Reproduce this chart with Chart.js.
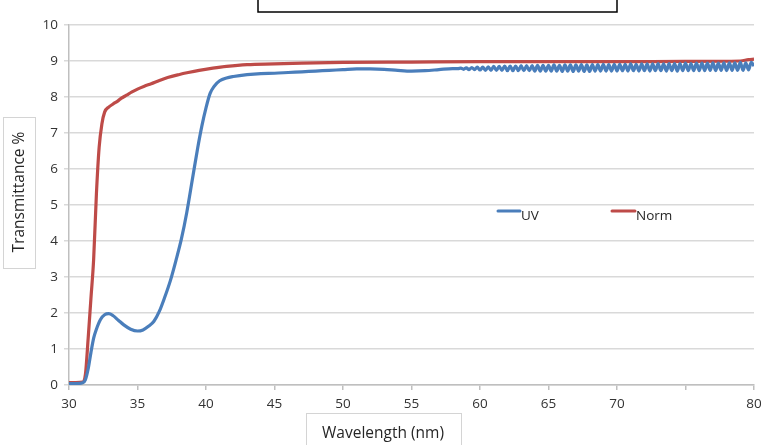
<!DOCTYPE html>
<html>
<head>
<meta charset="utf-8">
<script src="https://cdn.jsdelivr.net/npm/chart.js@4/dist/chart.umd.min.js"></script>
<style>
html,body{margin:0;padding:0;background:#fff;}
#wrap{width:775px;height:445px;position:relative;}
</style>
</head>
<body>
<div id="wrap"><canvas id="c" width="775" height="445"></canvas></div>
<script>
// ---- data ----
const xTicks = [30,35,40,45,50,55,60,65,70,75,80];
const yTicks = [0,1,2,3,4,5,6,7,8,9,10];

const normWavelength = [30,30.5,31.0,31.2,31.4,31.6,31.8,32.0,32.2,32.4,32.6,32.9,33.2,33.6,33.8,34.2,34.6,35.0,35.5,36.0,36.6,37.2,38.0,38.7,39.5,40.5,41.5,43,45,47,50,55,60,65,70,75,79.0,79.6,80];
const normValues     = [0.07,0.07,0.08,0.3,1.3,2.4,3.5,5.3,6.6,7.25,7.58,7.72,7.8,7.9,7.96,8.05,8.14,8.22,8.3,8.37,8.46,8.54,8.62,8.68,8.74,8.8,8.85,8.9,8.92,8.94,8.96,8.97,8.98,8.98,8.98,8.99,9.0,9.04,9.05];

const uvWavelength = [30,30.5,31.0,31.2,31.4,31.6,31.8,32.0,32.3,32.6,32.9,33.2,33.6,34.0,34.5,35.0,35.4,35.8,36.2,36.6,37.0,37.4,37.8,38.2,38.6,39.0,39.4,39.7,40.0,40.3,40.6,41.0,41.5,42,43,44,45,46,47,48,49,50,51,52,53,54,55,56,57,58,58.4,
58.6,58.8,59.0,59.2,59.4,59.6,59.8,60.0,60.2,60.4,60.6,60.8,61.0,61.2,61.4,61.6,61.8,62.0,62.2,62.4,62.6,62.8,63.0,63.2,63.4,63.6,63.8,64.0,64.2,64.4,64.6,64.8,65.0,65.2,65.4,65.6,65.8,66.0,66.2,66.4,66.6,66.8,67.0,67.2,67.4,67.6,67.8,68.0,68.2,68.4,68.6,68.8,69.0,69.2,69.4,69.6,69.8,70.0,
70.2,70.4,70.6,70.8,71.0,71.2,71.4,71.6,71.8,72.0,72.2,72.4,72.6,72.8,73.0,73.2,73.4,73.6,73.8,74.0,74.2,74.4,74.6,74.8,75.0,75.2,75.4,75.6,75.8,76.0,76.2,76.4,76.6,76.8,77.0,77.2,77.4,77.6,77.8,78.0,78.2,78.4,78.6,78.8,79.0,79.2,79.4,79.6,79.8,80.0];
const uvValues = [0.04,0.04,0.06,0.15,0.45,0.9,1.3,1.55,1.82,1.95,1.98,1.93,1.8,1.67,1.55,1.5,1.53,1.63,1.77,2.05,2.45,2.9,3.45,4.05,4.8,5.7,6.6,7.2,7.7,8.1,8.3,8.45,8.53,8.57,8.62,8.65,8.66,8.68,8.7,8.72,8.74,8.76,8.78,8.78,8.77,8.74,8.72,8.73,8.76,8.79,8.79,
8.80,8.77,8.81,8.76,8.82,8.76,8.83,8.75,8.83,8.74,8.84,8.74,8.85,8.74,8.85,8.74,8.86,8.73,8.86,8.73,8.86,8.73,8.87,8.73,8.87,8.73,8.87,8.72,8.88,8.72,8.88,8.72,8.88,8.72,8.89,8.72,8.88,8.71,8.89,8.72,8.89,8.71,8.89,8.72,8.90,8.71,8.89,8.71,8.90,8.72,8.90,8.72,8.91,8.72,8.90,8.72,8.91,8.72,
8.91,8.73,8.91,8.72,8.92,8.73,8.91,8.72,8.92,8.73,8.92,8.72,8.92,8.73,8.93,8.73,8.92,8.72,8.93,8.73,8.93,8.72,8.93,8.73,8.94,8.73,8.93,8.73,8.94,8.73,8.94,8.73,8.94,8.74,8.95,8.73,8.94,8.74,8.95,8.73,8.95,8.74,8.95,8.74,8.96,8.74,8.95,8.75,8.96,8.86];

const seriesNames = ['UV','Norm'];
const seriesColors = ['#4a7ebb','#be4b48'];
const xTitle = 'Wavelength (nm)';
const yTitle = 'Transmittance %';

function pts(xs, ys){ return xs.map((x,i)=>({x:x, y:ys[i]})); }

const FONT = "'Open Sans', 'Liberation Sans', sans-serif";

const decor = {
  id:'decor',
  afterDraw(chart){
    const ctx = chart.ctx;
    ctx.save();
    // empty title box
    ctx.strokeStyle = '#000'; ctx.lineWidth = 1.5;
    ctx.strokeRect(258, -5, 359, 17);
    // y title box
    ctx.strokeStyle = '#d4d4d4'; ctx.lineWidth = 1;
    ctx.strokeRect(3.5, 117.5, 32, 151);
    ctx.fillStyle = '#262626';
    ctx.font = '15.5px ' + FONT;
    ctx.textAlign = 'center'; ctx.textBaseline = 'middle';
    ctx.save(); ctx.translate(20, 192); ctx.rotate(-Math.PI/2); ctx.fillText(yTitle, 0, 0); ctx.restore();
    // x title box
    ctx.strokeRect(306.5, 413.5, 155, 40);
    ctx.textBaseline = 'alphabetic';
    ctx.fillText(xTitle, 383, 438);
    // legend
    const items = [{x:498, w:22}, {x:612, w:23}];
    ctx.font = '13.5px ' + FONT; ctx.textAlign = 'left';
    chart.data.datasets.forEach((ds,i)=>{
      const it = items[i];
      ctx.strokeStyle = ds.borderColor; ctx.lineWidth = 3; ctx.lineCap='round';
      ctx.beginPath(); ctx.moveTo(it.x, 211); ctx.lineTo(it.x+it.w, 211); ctx.stroke();
      ctx.fillStyle = '#262626';
      ctx.fillText(ds.label, it.x+it.w+1, 220);
    });
    ctx.restore();
  }
};

new Chart(document.getElementById('c'), {
  type:'line',
  data:{
    datasets:[
      {label:seriesNames[0], data:pts(uvWavelength, uvValues), borderColor:seriesColors[0], borderWidth:3.2, pointRadius:0, cubicInterpolationMode:'monotone', fill:false},
      {label:seriesNames[1], data:pts(normWavelength, normValues), borderColor:seriesColors[1], borderWidth:3.2, pointRadius:0, cubicInterpolationMode:'monotone', fill:false}
    ]
  },
  options:{
    responsive:false, animation:false, devicePixelRatio:1,
    layout:{padding:{top:25, right:21, left:0, bottom:0}},
    plugins:{legend:{display:false}, tooltip:{enabled:false}, title:{display:false}},
    scales:{
      x:{type:'linear', min:30, max:80,
         afterBuildTicks(s){ s.ticks = xTicks.map(v=>({value:v})); },
         afterFit(s){ s.height = 60; },
         ticks:{autoSkip:false, maxRotation:0, padding:6, color:'#333', font:{family:FONT, size:13.5},
                callback:(v)=> v===75 ? '' : String(v)},
         grid:{drawOnChartArea:false, drawTicks:true, tickLength:5, color:'#bfbfbf', lineWidth:1.5},
         border:{color:'#bfbfbf', width:1.5}
      },
      y:{min:0, max:10,
         afterBuildTicks(s){ s.ticks = yTicks.map(v=>({value:v})); },
         afterFit(s){ s.width = 69; },
         ticks:{autoSkip:false, padding:6, color:'#333', font:{family:FONT, size:13.5}},
         grid:{color:'#d9d9d9', lineWidth:1.5, tickLength:5},
         border:{color:'#bfbfbf', width:1.5}
      }
    }
  },
  plugins:[decor]
});
</script>
</body>
</html>
